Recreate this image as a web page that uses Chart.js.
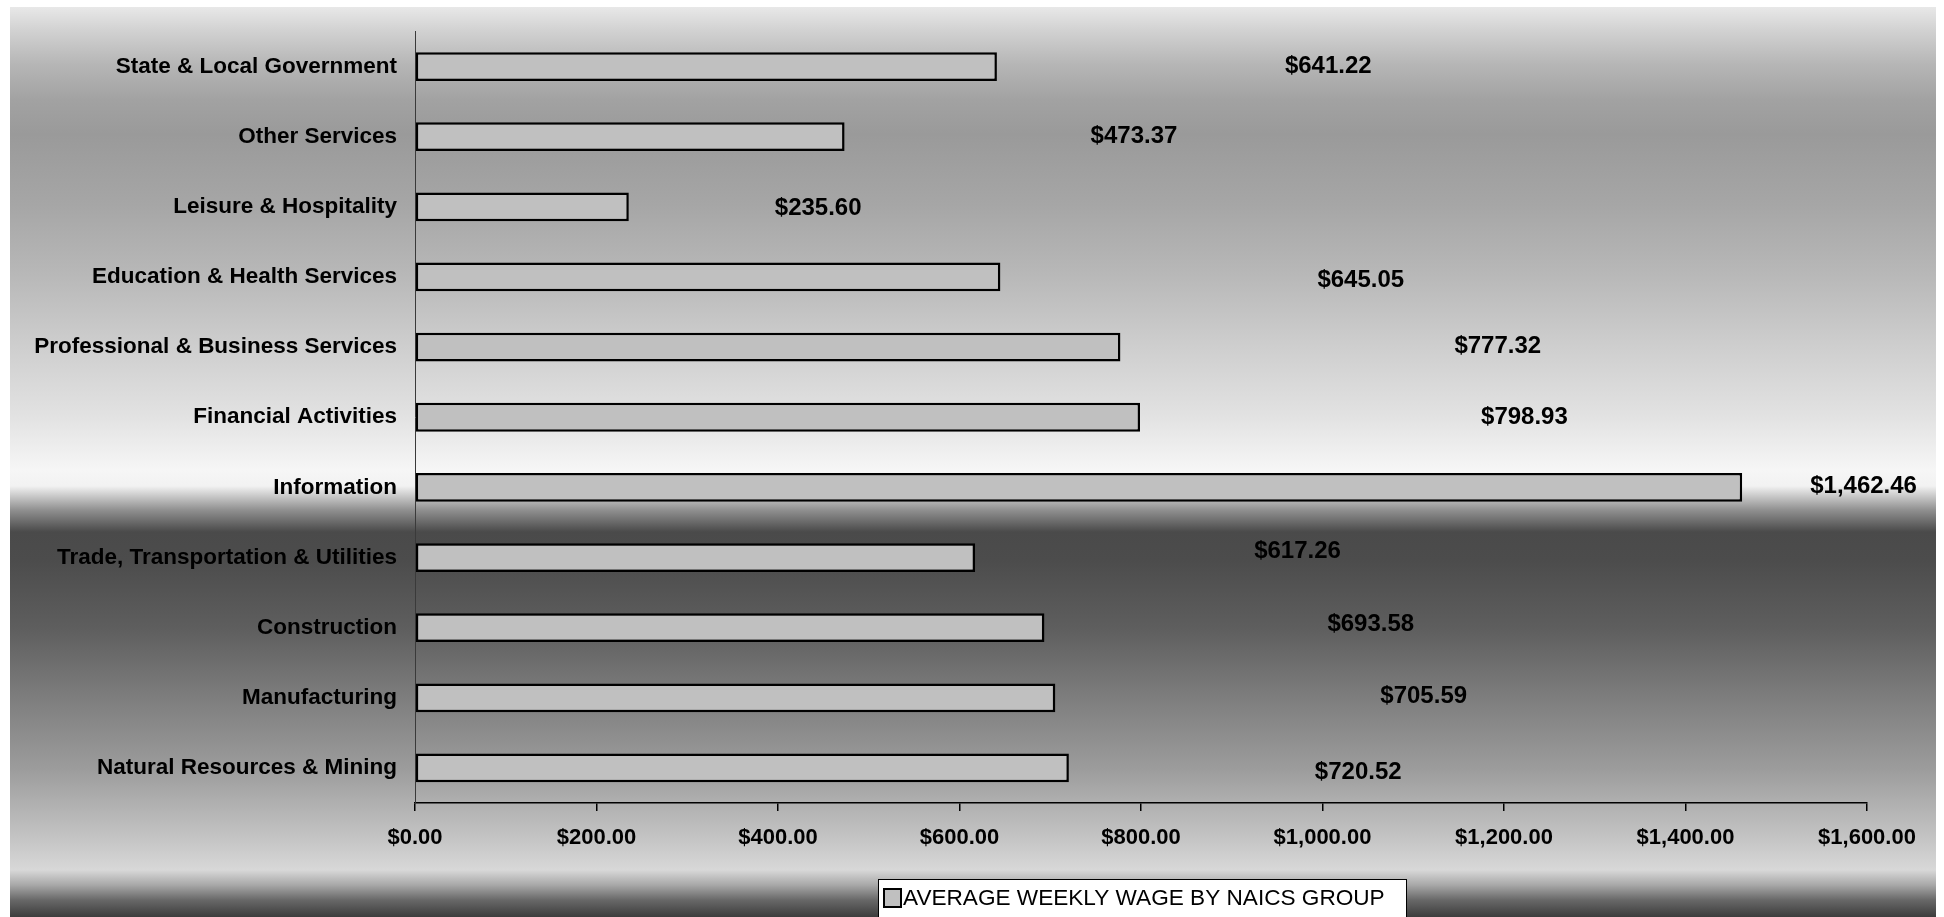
<!DOCTYPE html>
<html>
<head>
<meta charset="utf-8">
<title>Average Weekly Wage by NAICS Group</title>
<script src="https://cdn.jsdelivr.net/npm/chart.js@4.4.1/dist/chart.umd.min.js"></script>
<style>
  html, body { margin: 0; padding: 0; background: #fff; }
  #wrap { width: 1944px; height: 917px; }
</style>
</head>
<body>
<div id="wrap"><canvas id="chart" width="1944" height="917"></canvas></div>
<script>
const categories = [
  "State & Local Government",
  "Other Services",
  "Leisure & Hospitality",
  "Education & Health Services",
  "Professional & Business Services",
  "Financial Activities",
  "Information",
  "Trade, Transportation & Utilities",
  "Construction",
  "Manufacturing",
  "Natural Resources & Mining"
];
const wages = [641.22, 473.37, 235.60, 645.05, 777.32, 798.93, 1462.46, 617.26, 693.58, 705.59, 720.52];
const seriesName = "AVERAGE WEEKLY WAGE BY NAICS GROUP";
const axisMin = 0;
const axisMax = 1600;
const axisStep = 200;

function money(v) {
  return "$" + Number(v).toLocaleString("en-US", { minimumFractionDigits: 2, maximumFractionDigits: 2 });
}

const FONT = "'Liberation Sans', Arial, sans-serif";

// grey banded backdrop, like the old Excel fill
const backdrop = {
  id: "backdrop",
  beforeDraw(chart) {
    const ctx = chart.ctx;
    const top = 7, bottom = 917;
    ctx.save();
    ctx.fillStyle = "#ffffff";
    ctx.fillRect(0, 0, chart.width, chart.height);
    const g = ctx.createLinearGradient(0, top, 0, bottom);
    const stops = [
      [7, "#e8e8e8"], [30, "#d2d2d2"], [64, "#b6b6b6"], [100, "#a2a2a2"],
      [134, "#9a9a9a"], [205, "#a6a6a6"], [275, "#b8b8b8"], [346, "#cecece"],
      [416, "#e2e2e2"], [470, "#f6f6f6"], [486, "#f2f2f2"], [510, "#909090"],
      [532, "#4a4a4a"], [560, "#4c4c4c"], [628, "#5e5e5e"], [699, "#7e7e7e"],
      [769, "#9c9c9c"], [838, "#c4c4c4"], [870, "#d8d8d8"], [885, "#a8a8a8"],
      [900, "#686868"], [917, "#3c3c3c"]
    ];
    stops.forEach(s => g.addColorStop((s[0] - top) / (bottom - top), s[1]));
    ctx.fillStyle = g;
    ctx.fillRect(10, top, 1926, bottom - top);
    ctx.restore();
  }
};

// value labels sit well to the right of each bar end
const valueLabels = {
  id: "valueLabels",
  afterDatasetsDraw(chart) {
    const gap = [288, 246, 146, 317, 334, 341, 68, 279, 283, 325, 246];
    const dy = [0, 0, 2, 3, -1, 0, -1, -6, -3, -1, 4];
    const ctx = chart.ctx;
    const meta = chart.getDatasetMeta(0);
    ctx.save();
    ctx.font = "bold 24px " + FONT;
    ctx.fillStyle = "#000";
    ctx.textAlign = "left";
    ctx.textBaseline = "middle";
    meta.data.forEach((bar, i) => {
      const v = chart.data.datasets[0].data[i];
      ctx.fillText(money(v), bar.x + gap[i], bar.y + dy[i]);
    });
    ctx.restore();
  }
};

// boxed legend at the bottom
const boxLegend = {
  id: "boxLegend",
  afterDraw(chart) {
    const ctx = chart.ctx;
    const ds = chart.data.datasets[0];
    ctx.save();
    ctx.fillStyle = "#ffffff";
    ctx.fillRect(878, 879, 528, 40);
    ctx.strokeStyle = "#000";
    ctx.lineWidth = 1;
    ctx.strokeRect(878.5, 879.5, 528, 40);
    ctx.fillStyle = ds.backgroundColor;
    ctx.fillRect(884, 889, 17, 18);
    ctx.lineWidth = 2;
    ctx.strokeRect(884, 889, 17, 18);
    ctx.fillStyle = "#000";
    ctx.font = "22.6px " + FONT;
    ctx.textAlign = "left";
    ctx.textBaseline = "middle";
    ctx.fillText(ds.label, 903, 899);
    ctx.restore();
  }
};

new Chart(document.getElementById("chart"), {
  type: "bar",
  data: {
    labels: categories,
    datasets: [{
      label: seriesName,
      data: wages,
      backgroundColor: "#c0c0c0",
      borderColor: "#000000",
      borderWidth: 2.5,
      borderSkipped: false,
      barPercentage: 0.41,
      categoryPercentage: 1.0
    }]
  },
  options: {
    indexAxis: "y",
    responsive: false,
    animation: false,
    devicePixelRatio: 1,
    layout: { padding: { top: 28, right: 77, bottom: 0, left: 0 } },
    plugins: {
      legend: { display: false },
      tooltip: { enabled: false }
    },
    scales: {
      x: {
        min: axisMin,
        max: axisMax,
        afterFit(scale) { scale.height = 114; },
        ticks: {
          stepSize: axisStep,
          color: "#000",
          font: { family: FONT, size: 22, weight: "bold" },
          padding: 14,
          maxRotation: 0,
          callback: v => money(v)
        },
        grid: {
          drawOnChartArea: false,
          drawTicks: true,
          tickLength: 8,
          color: "#000",
          lineWidth: 1.5
        },
        border: { display: true, color: "#000", width: 1.5 }
      },
      y: {
        afterFit(scale) { scale.width = 415; },
        ticks: {
          color: "#000",
          font: { family: FONT, size: 22.5, weight: "bold" },
          padding: 18,
          autoSkip: false
        },
        grid: { drawOnChartArea: false, drawTicks: false },
        border: { display: true, color: "#3a3a3a", width: 1 }
      }
    }
  },
  plugins: [backdrop, valueLabels, boxLegend]
});
</script>
</body>
</html>
